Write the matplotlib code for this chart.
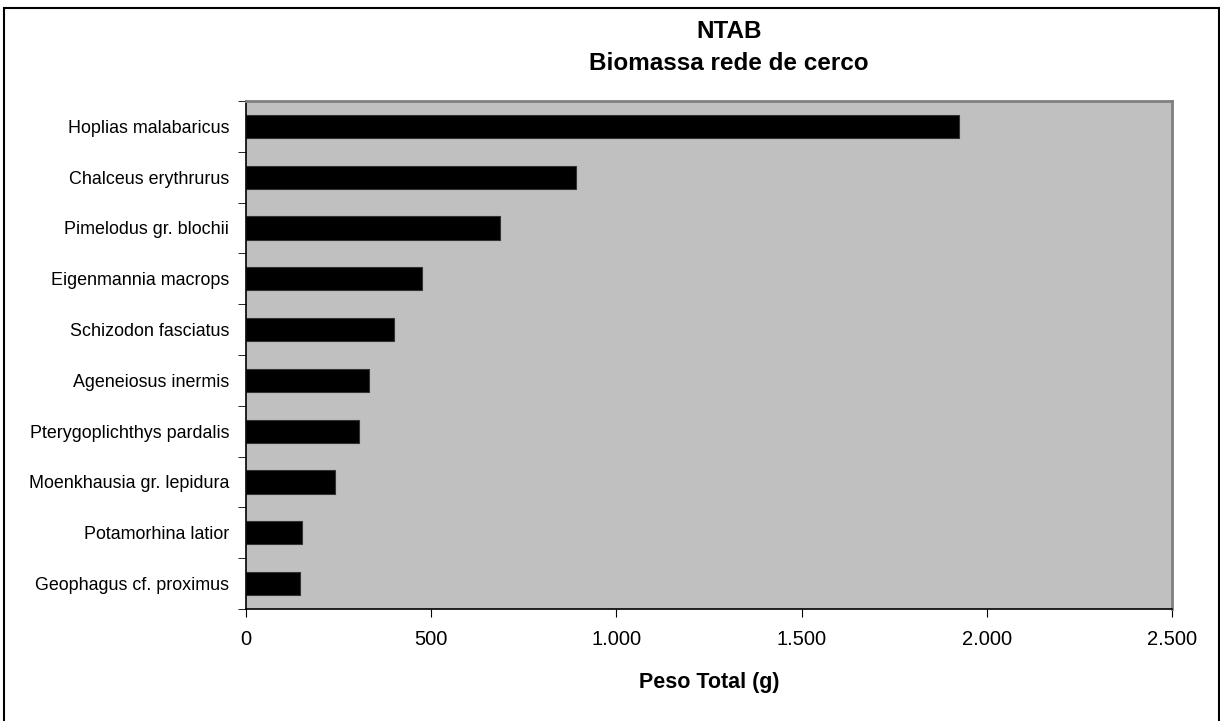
import matplotlib
matplotlib.use("Agg")
import matplotlib.pyplot as plt
from matplotlib.patches import Rectangle
from matplotlib.ticker import FuncFormatter, MultipleLocator
import numpy as np

plt.rcParams['font.family'] = ['Liberation Sans', 'DejaVu Sans']

species = ["Hoplias malabaricus", "Chalceus erythrurus", "Pimelodus gr. blochii",
           "Eigenmannia macrops", "Schizodon fasciatus", "Ageneiosus inermis",
           "Pterygoplichthys pardalis", "Moenkhausia gr. lepidura",
           "Potamorhina latior", "Geophagus cf. proximus"]
peso = [1925, 891, 685, 474, 399, 331, 304, 240, 152, 146]

fig = plt.figure(figsize=(12.2, 7.21), dpi=100)
fig.patch.set_facecolor('white')
fig.patches.append(Rectangle((4/1220, -0.01), (1219-4)/1220, 1 - 8/721 + 0.01,
                             transform=fig.transFigure, fill=False,
                             edgecolor='black', linewidth=1.5))

ax = fig.add_axes([246/1220, 1 - 609/721, (1172-246)/1220, (609-101)/721])
ax.set_facecolor('#c0c0c0')
y = np.arange(len(species))
ax.barh(y, peso, height=0.455, color='black', edgecolor='#333333', linewidth=0.8)
ax.set_ylim(len(species) - 0.5, -0.5)
ax.set_xlim(0, 2500)
ax.set_yticks(y)
ax.set_yticklabels(species, fontsize=12.9)
ax.set_yticks(np.arange(-0.5, len(species), 1.0), minor=True)
ax.tick_params(axis='y', which='major', length=0, pad=12)
ax.tick_params(axis='y', which='minor', length=6, direction='out', color='black')
ax.xaxis.set_major_locator(MultipleLocator(500))
ax.xaxis.set_major_formatter(FuncFormatter(lambda v, p: f"{int(v):,}".replace(",", ".")))
ax.tick_params(axis='x', length=6, direction='out', labelsize=14.5, pad=9)
for s in ['left', 'bottom']:
    ax.spines[s].set_color('black')
    ax.spines[s].set_linewidth(1.2)
for s in ['top', 'right']:
    ax.spines[s].set_color('#808080')
    ax.spines[s].set_linewidth(2)

ax.set_xlabel("Peso Total (g)", fontsize=15.5, fontweight='bold', labelpad=17)
fig.text(729/1220, 1 - 31/721, "NTAB", ha='center', va='center', fontsize=17.5, fontweight='bold')
fig.text(729/1220, 1 - 63/721, "Biomassa rede de cerco", ha='center', va='center', fontsize=17.5, fontweight='bold')

fig.savefig("out.png", dpi=100)
